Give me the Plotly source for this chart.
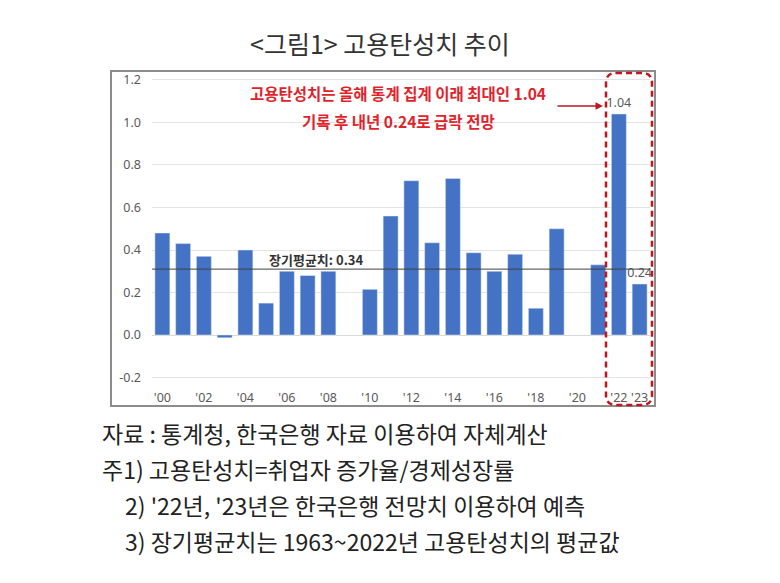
import plotly.graph_objects as go

years = list(range(2000, 2024))
elasticity = [0.48, 0.43, 0.37, -0.013, 0.40, 0.15, 0.30, 0.28, 0.30, None,
              0.215, 0.56, 0.726, 0.434, 0.737, 0.387, 0.30, 0.38, 0.126, 0.50,
              None, 0.33, 1.04, 0.24]
labeled_years = [2022, 2023]
long_run_line = 0.31
long_run_label = "장기평균치: 0.34"

tick_years = [2000, 2002, 2004, 2006, 2008, 2010, 2012, 2014, 2016, 2018, 2020, 2022, 2023]
tick_text = ["'00", "'02", "'04", "'06", "'08", "'10", "'12", "'14", "'16", "'18", "'20", "'22", "'23"]
y_ticks = [-0.2, 0.0, 0.2, 0.4, 0.6, 0.8, 1.0, 1.2]
y_tick_text = ["-0.2", "0.0", "0.2", "0.4", "0.6", "0.8", "1.0", "1.2"]

title_text = "&lt;그림1&gt; 고용탄성치 추이"
callout_lines = ["고용탄성치는 올해 통계 집계 이래 최대인 1.04",
                 "기록 후 내년 0.24로 급락 전망"]
notes = ["자료 : 통계청, 한국은행 자료 이용하여 자체계산",
         "주1) 고용탄성치=취업자 증가율/경제성장률",
         "2) '22년, '23년은 한국은행 전망치 이용하여 예측",
         "3) 장기평균치는 1963~2022년 고용탄성치의 평균값"]

# page geometry; the page body adds an 8px offset, so screen px = figure px + 8
W, H = 780, 583
OFF = 8
L, R, T, B = 144, 138, 64, 203
PW, PH = W - L - R, H - T - B


def px(x):
    return (x - OFF - L) / PW


def py(y):
    return (H - B - (y - OFF)) / PH


bar_text = ["%.2f" % v if y in labeled_years else "" for y, v in zip(years, elasticity)]

trace = go.Bar(
    x=years,
    y=elasticity,
    width=0.72,
    marker=dict(color="#4472C4"),
    text=bar_text,
    textposition="outside",
    constraintext="none",
    textfont=dict(family="Noto Sans", size=12.5, color="#595959"),
    cliponaxis=False,
    hoverinfo="x+y",
)

red = "#E0232B"
dark_red = "#C0161F"


def note(text, x, y, size, color, xanchor="center", family="Noto Sans CJK KR"):
    return dict(text=text, x=px(x), y=py(y), xref="paper", yref="paper",
                xanchor=xanchor, yanchor="middle", showarrow=False,
                font=dict(family=family, size=size, color=color))


annotations = [
    note(title_text, 380, 43, 25, "#333333"),
    note("<b>%s</b>" % long_run_label, 316, 259, 13, "#333333"),
    note("<b>%s</b>" % callout_lines[0], 398, 93, 15.5, red),
    note("<b>%s</b>" % callout_lines[1], 398, 121, 15.5, red),
    dict(text="", x=px(603), y=py(106), xref="paper", yref="paper",
         showarrow=True, ax=-47, ay=0, arrowhead=2, arrowsize=1, arrowwidth=1.5,
         arrowcolor=dark_red),
]

note_pos = [(100, 433), (100, 469), (123, 505), (123, 541)]
for t, (nx, ny) in zip(notes, note_pos):
    annotations.append(note(t, nx, ny, 23, "#222222", xanchor="left"))

# rounded dashed box around the forecast years
x0, x1, y0, y1 = px(606), px(652), py(405), py(73)
rx, ry = 10 / PW, 10 / PH
box_path = ("M %f %f L %f %f Q %f %f %f %f L %f %f Q %f %f %f %f "
            "L %f %f Q %f %f %f %f L %f %f Q %f %f %f %f Z") % (
    x0 + rx, y1, x1 - rx, y1, x1, y1, x1, y1 - ry,
    x1, y0 + ry, x1, y0, x1 - rx, y0,
    x0 + rx, y0, x0, y0, x0, y0 + ry,
    x0, y1 - ry, x0, y1, x0 + rx, y1)

shapes = [
    dict(type="rect", xref="paper", yref="paper", x0=px(111), x1=px(655), y0=py(406), y1=py(71),
         line=dict(color="#8C8C8C", width=2)),
    dict(type="line", xref="paper", yref="y", x0=0, x1=1, y0=long_run_line, y1=long_run_line,
         line=dict(color="#404040", width=1)),
    dict(type="path", xref="paper", yref="paper", path=box_path,
         line=dict(color=dark_red, width=2.5, dash="6px,4px")),
]

layout = go.Layout(
    width=W,
    height=H,
    margin=dict(l=L, r=R, t=T, b=B),
    paper_bgcolor="white",
    plot_bgcolor="white",
    showlegend=False,
    xaxis=dict(
        range=[1999.5, 2023.5],
        tickmode="array",
        tickvals=tick_years,
        ticktext=tick_text,
        tickfont=dict(family="Noto Sans", size=12.5, color="#595959"),
        showgrid=False,
        zeroline=False,
        showline=False,
    ),
    yaxis=dict(
        range=[-0.2494, 1.2376],
        tickmode="array",
        tickvals=y_ticks,
        ticktext=y_tick_text,
        tickfont=dict(family="Noto Sans", size=12.5, color="#595959"),
        ticklabelstandoff=10,
        showgrid=True,
        gridcolor="#E3E3E3",
        gridwidth=1,
        zeroline=True,
        zerolinecolor="#D9D9D9",
        zerolinewidth=1,
        showline=False,
    ),
    annotations=annotations,
    shapes=shapes,
)

fig = go.Figure(data=[trace], layout=layout)
fig.write_html("out.html")
